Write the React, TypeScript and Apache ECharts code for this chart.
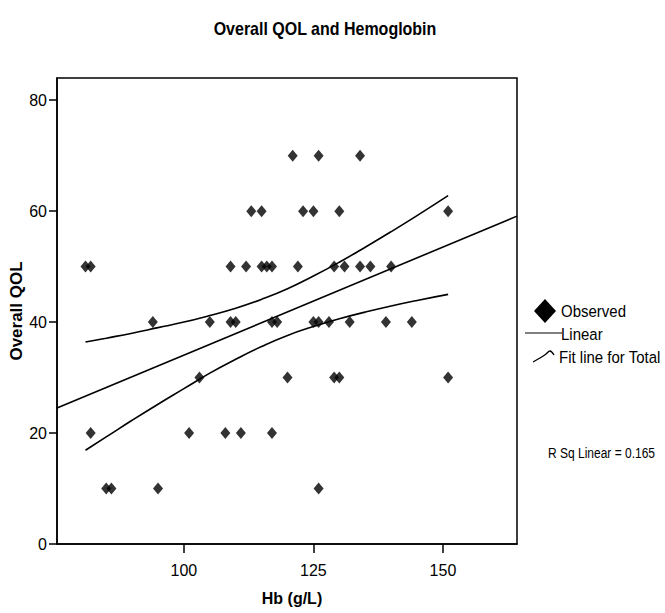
import React, { useEffect, useRef } from "react";
import * as echarts from "echarts";

// Observed data points (Hb g/L, Overall QOL)
const hbValues = [
  121, 126, 134,
  113, 115, 123, 125, 130, 151,
  81, 82, 109, 112, 115, 116, 117, 122, 129, 131, 134, 136, 140,
  94, 105, 109, 110, 117, 118, 125, 126, 128, 132, 139, 144,
  103, 120, 129, 130, 151,
  82, 101, 108, 111, 117,
  85, 86, 95, 126,
];
const qolValues = [
  70, 70, 70,
  60, 60, 60, 60, 60, 60,
  50, 50, 50, 50, 50, 50, 50, 50, 50, 50, 50, 50, 50,
  40, 40, 40, 40, 40, 40, 40, 40, 40, 40, 40, 40,
  30, 30, 30, 30, 30,
  20, 20, 20, 20, 20,
  10, 10, 10, 10,
];

// Linear fit line
const linearFit = [
  [75.5, 24.5],
  [164.3, 59.1],
];
// Confidence band curves
const upperBand = [
  [81, 36.4], [85, 37.1], [90, 38.0], [95, 39.0], [100, 40.0], [105, 41.2],
  [110, 42.5], [115, 44.1], [120, 46.0], [125, 48.3], [130, 50.8],
  [135, 53.5], [140, 56.3], [145, 59.2], [151, 62.8],
];
const lowerBand = [
  [81, 16.9], [85, 19.3], [90, 22.3], [95, 25.2], [100, 28.0], [105, 30.8],
  [110, 33.3], [115, 35.6], [120, 37.6], [125, 39.2], [130, 40.6],
  [135, 41.8], [140, 42.9], [145, 43.9], [151, 45.0],
];

const xTicks = [100, 125, 150];
const yTicks = [0, 20, 40, 60, 80];
const xRange = [75.5, 164.3];
const yRange = [0, 84];
const rSquared = "0.165";

const FONT = "'Liberation Sans', Arial, Helvetica, sans-serif";

export default function App() {
  const ref = useRef<HTMLDivElement>(null);

  useEffect(() => {
    if (!ref.current) return;
    const chart = echarts.init(ref.current, undefined, { renderer: "svg" });
    const points = hbValues.map((x, i) => [x, qolValues[i]]);

    const legendText = (text: string, x: number, y: number, size: number) => ({
      type: "text",
      x,
      y,
      scaleY: 1.15,
      style: { text, fontFamily: FONT, fontSize: size, fill: "#000", textVerticalAlign: "middle" },
    });

    chart.setOption({
      animation: false,
      backgroundColor: "#ffffff",
      grid: {
        left: 57,
        right: 148,
        top: 78,
        bottom: 69,
        containLabel: false,
        outerBoundsMode: "none",
        show: true,
        borderColor: "#000",
        borderWidth: 1.5,
        backgroundColor: "transparent",
      },
      xAxis: {
        type: "value",
        min: xRange[0],
        max: xRange[1],
        name: "Hb (g/L)",
        nameLocation: "middle",
        nameGap: 46,
        nameMoveOverlap: false,
        nameTextStyle: { fontFamily: FONT, fontSize: 16, fontWeight: "bold", color: "#000", padding: [0, 0, 0, 10] },
        axisLine: { show: true, lineStyle: { color: "#000", width: 1.5 } },
        axisTick: { show: true, length: 9, customValues: xTicks, lineStyle: { color: "#000", width: 1.5 } },
        axisLabel: { customValues: xTicks, margin: 18, fontFamily: FONT, fontSize: 16, color: "#000" },
        splitLine: { show: false },
      },
      yAxis: {
        type: "value",
        min: yRange[0],
        max: yRange[1],
        name: "Overall QOL",
        nameLocation: "middle",
        nameGap: 32,
        nameMoveOverlap: false,
        nameTextStyle: { fontFamily: FONT, fontSize: 17, fontWeight: "bold", color: "#000" },
        axisLine: { show: true, lineStyle: { color: "#000", width: 1.5 } },
        axisTick: { show: true, length: 8, customValues: yTicks, lineStyle: { color: "#000", width: 1.5 } },
        axisLabel: { customValues: yTicks, margin: 10, fontFamily: FONT, fontSize: 16, color: "#000" },
        splitLine: { show: false },
      },
      graphic: [
        {
          type: "text",
          x: 325,
          y: 28,
          scaleY: 1.2,
          style: {
            text: "Overall QOL and Hemoglobin",
            fontFamily: FONT,
            fontSize: 16,
            fontWeight: "bold",
            fill: "#000",
            textAlign: "center",
            textVerticalAlign: "middle",
          },
        },
        {
          type: "polygon",
          shape: { points: [[534, 311], [545, 299], [556, 311], [545, 323]] },
          style: { fill: "#000" },
        },
        legendText("Observed", 561, 311, 15),
        {
          type: "line",
          shape: { x1: 525, y1: 333, x2: 562, y2: 333 },
          style: { stroke: "#000", lineWidth: 1 },
        },
        legendText("Linear", 561, 334, 15),
        {
          type: "polyline",
          shape: { points: [[533, 362], [540, 358], [546, 354], [550, 351], [554, 355]], smooth: 0.4 },
          style: { stroke: "#000", lineWidth: 1.3, fill: "none" },
        },
        legendText("Fit line for Total", 559, 357, 15),
        legendText("R Sq Linear = " + rSquared, 548, 453, 12),
      ],
      series: [
        {
          name: "Observed",
          type: "scatter",
          data: points,
          symbol: "diamond",
          symbolSize: [10, 12],
          itemStyle: { color: "#000" },
          z: 5,
        },
        {
          name: "Linear",
          type: "line",
          data: linearFit,
          showSymbol: false,
          lineStyle: { color: "#000", width: 1.6 },
        },
        {
          name: "Fit line for Total",
          type: "line",
          data: upperBand,
          smooth: true,
          showSymbol: false,
          lineStyle: { color: "#000", width: 1.6 },
        },
        {
          name: "Fit line for Total (lower)",
          type: "line",
          data: lowerBand,
          smooth: true,
          showSymbol: false,
          lineStyle: { color: "#000", width: 1.6 },
        },
      ],
    });

    return () => chart.dispose();
  }, []);

  return (
    <div
      ref={ref}
      style={{ position: "absolute", left: 0, top: 0, width: 665, height: 613, background: "#fff" }}
    />
  );
}
